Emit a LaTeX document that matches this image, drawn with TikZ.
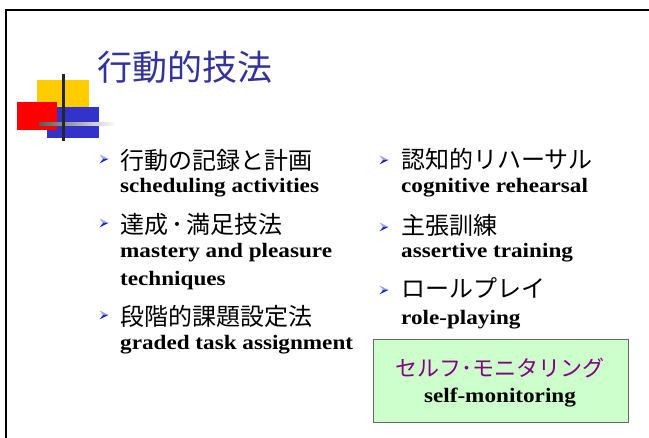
\documentclass[tikz,border=0pt]{standalone}
\usepackage{fontspec}
\setmainfont{Liberation Serif}[FakeStretch=1.13]
\newfontfamily\jpfont{Noto Sans CJK JP}
\definecolor{titleblue}{RGB}{51,51,153}
\definecolor{logoyellow}{RGB}{255,204,0}
\definecolor{logoblue}{RGB}{51,51,204}
\definecolor{smgreen}{RGB}{204,255,204}
\definecolor{smpurple}{RGB}{128,0,128}
\definecolor{bullight}{RGB}{160,165,235}
\definecolor{buldark}{RGB}{30,40,200}
\tikzset{
  jp/.style={anchor=west, inner sep=0pt, font=\jpfont\fontsize{24}{28}\selectfont},
  en/.style={anchor=base west, inner sep=0pt, font=\bfseries\fontsize{20.5}{24}\selectfont},
  bul/.pic={
    \fill[bullight] (-4.5,-4.5) -- (4.5,0) -- (-1,0) -- cycle;
    \fill[buldark] (-1,0) -- (4.5,0) -- (-4.5,4.5) -- cycle;
  }
}

\begin{document}
\begin{tikzpicture}[x=1pt, y=-1pt]
            \useasboundingbox (0,0) rectangle (649,438);
            % frame
            \draw[line width=2pt] (649,10) -- (6,10) -- (6,438);
            
            % logo
            \fill[logoyellow] (37,80) rectangle (89,108);
            \fill[logoblue] (47,107) rectangle (99,138);
            \fill[red] (17,102) rectangle (57,130);
            \shade[left color=black!65, right color=white] (39,123) rectangle (116,126);
            \fill[black!85] (62,74) rectangle (65,141);
            
            % title
            \node[anchor=west, inner sep=0pt, text=titleblue, font=\jpfont\fontsize{35}{40}\selectfont] (title) at (97,67) {行動的技法};
            
            % left column
            \pic at (104,159) {bul};
            \node[jp] (rec) at (120,160) {行動の記録と計画};
            \node[en] (recen) at (120,193) {scheduling activities};
            \pic at (104,223) {bul};
            \node[jp] (mast) at (120,224) {達成\hspace{3pt}･\hspace{3pt}満足技法};
            \node[en] (masten) at (120,258) {mastery and pleasure};
            \node[en] (masten2) at (120,286) {techniques};
            \pic at (104,315) {bul};
            \node[jp] (grad) at (120,316) {段階的課題設定法};
            \node[en] (graden) at (120,350) {graded task assignment};
            
            % right column
            \pic at (384,160) {bul};
            \node[jp] (cog) at (401,159) {認知的リハーサル};
            \node[en] (cogen) at (401,193) {cognitive rehearsal};
            \pic at (384,227) {bul};
            \node[jp] (asrt) at (401,225) {主張訓練};
            \node[en] (asrten) at (401,258) {assertive training};
            \pic at (384,290) {bul};
            \node[jp] (role) at (401,288) {ロールプレイ};
            \node[en] (roleen) at (401,325) {role-playing};
            
            % self-monitoring box
            \node[draw=black!60, fill=smgreen, line width=1pt, minimum width=255pt, minimum height=83pt, inner sep=0pt] (smbox) at (500.5,381.5) {};
            \node[inner sep=0pt, text=smpurple, font=\jpfont\fontsize{22}{26}\selectfont] (smjp) at (500,368) {セルフ･モニタリング};
            \node[en, anchor=base] (smen) at (500,403) {self-monitoring};
\end{tikzpicture}
\end{document}
